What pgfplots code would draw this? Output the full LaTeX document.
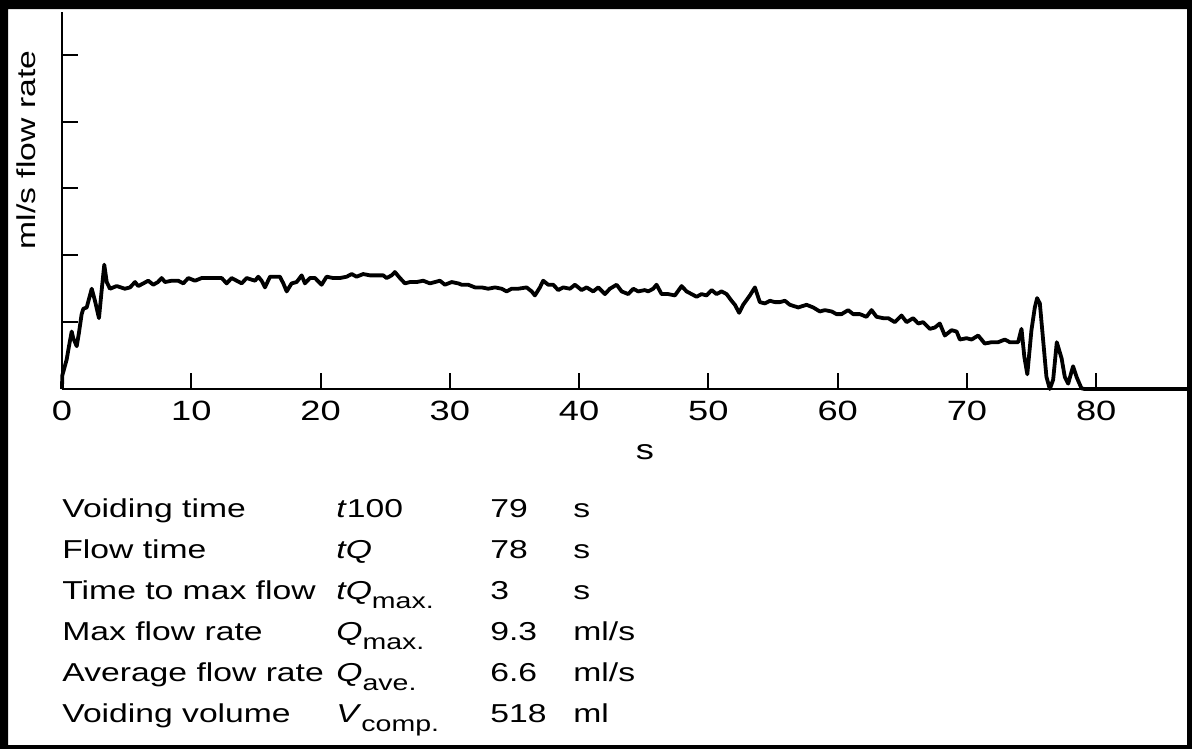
\documentclass[border=0pt]{standalone}
\usepackage{pgfplots}
\pgfplotsset{compat=1.18}
\usepackage{fontspec}
\setmainfont{Liberation Sans}[FakeStretch=1.3]

\newcommand{\sub}[1]{\raisebox{-4.5bp}{\fontsize{11}{11}\selectfont #1}}
\newcommand{\tbl}{\fontsize{13}{13}\selectfont}
\newcommand{\tck}{\fontsize{14}{14}\selectfont}

\pgfplotstableread{
t Q
0.00 0.0
0.02 1.0
0.36 2.2
0.54 3.2
0.75 4.3
0.87 3.8
1.14 3.2
1.31 4.2
1.52 5.6
1.65 6.0
1.91 6.1
2.30 7.5
2.55 6.6
2.86 5.3
3.07 7.4
3.27 9.3
3.46 8.0
3.71 7.5
4.23 7.7
4.87 7.5
5.26 7.6
5.65 8.0
5.90 7.7
6.29 7.9
6.67 8.1
7.06 7.8
7.42 8.0
7.71 8.3
7.97 8.0
8.48 8.1
8.99 8.1
9.38 7.9
9.77 8.3
10.29 8.1
10.80 8.3
12.35 8.3
12.74 7.9
13.12 8.3
13.90 7.9
14.28 8.3
14.93 8.1
15.18 8.4
15.44 8.1
15.70 7.6
16.09 8.4
16.47 8.4
16.86 8.4
17.12 7.9
17.38 7.3
17.76 7.9
18.15 8.0
18.54 8.5
18.79 7.9
19.18 8.3
19.57 8.3
20.08 7.8
20.47 8.4
20.98 8.3
21.50 8.3
22.02 8.4
22.41 8.6
22.79 8.4
23.30 8.6
23.82 8.5
24.34 8.5
24.85 8.5
25.11 8.3
25.50 8.5
25.75 8.75
26.14 8.3
26.53 7.9
26.91 8.0
27.43 8.0
27.94 8.1
28.46 7.9
28.85 8.0
29.23 8.1
29.62 7.8
30.14 8.0
30.65 7.9
30.91 7.8
31.42 7.8
31.94 7.6
32.46 7.6
32.97 7.5
33.49 7.6
34.01 7.5
34.39 7.3
34.78 7.5
35.29 7.5
35.94 7.6
36.33 7.3
36.58 7.0
36.97 7.6
37.22 8.1
37.61 7.8
38.00 7.8
38.38 7.4
38.77 7.6
39.29 7.5
39.68 7.8
40.19 7.4
40.58 7.6
41.09 7.3
41.48 7.6
42.00 7.1
42.38 7.5
42.90 7.8
43.29 7.3
43.80 7.1
44.19 7.5
44.57 7.3
45.09 7.4
45.34 7.3
45.73 7.5
45.99 7.8
46.38 7.1
46.89 7.1
47.41 7.0
47.93 7.7
48.31 7.3
48.70 7.1
49.09 6.9
49.47 7.1
49.86 7.0
50.25 7.4
50.63 7.1
51.02 7.3
51.41 7.1
51.79 6.6
52.05 6.3
52.38 5.7
52.69 6.3
53.21 7.0
53.60 7.6
53.98 6.5
54.37 6.4
54.76 6.6
55.14 6.5
55.53 6.5
55.92 6.6
56.30 6.3
56.95 6.1
57.59 6.3
58.11 6.1
58.62 5.8
59.01 5.9
59.53 5.8
59.92 5.6
60.30 5.6
60.81 5.9
61.20 5.6
61.72 5.6
62.23 5.4
62.62 5.9
63.01 5.4
63.52 5.3
63.91 5.3
64.42 5.0
64.94 5.5
65.33 5.0
65.84 5.3
66.23 4.9
66.61 5.0
67.13 4.5
67.52 4.6
67.90 4.9
68.29 4.0
68.81 4.4
69.20 4.3
69.45 3.7
69.97 3.8
70.36 3.7
70.87 4.0
71.38 3.4
71.90 3.5
72.41 3.5
72.93 3.7
73.32 3.5
73.70 3.5
73.96 3.5
74.22 4.5
74.44 2.4
74.67 1.1
74.99 4.4
75.25 6.1
75.43 6.8
75.64 6.4
75.89 3.7
76.15 0.9
76.41 0.0
76.67 0.7
76.95 3.5
77.32 2.3
77.57 0.9
77.83 0.4
78.21 1.7
78.48 0.9
78.86 0.05
79.10 0.0
87.10 0.0
}\flowdata

\begin{document}
\begin{tikzpicture}
\useasboundingbox (0,0) rectangle (596bp,-374.5bp);
\fill[black,even odd rule] (0,0) rectangle (596bp,-374.5bp)
  (4bp,-4.5bp) rectangle (593.5bp,-372.5bp);
\begin{axis}[
    at={(31bp,-194.5bp)}, anchor=south west,
    scale only axis, width=563bp, height=188.5bp,
    xmin=0, xmax=87.1, ymin=0, ymax=28.2,
    axis x line*=bottom, axis y line*=left,
    axis line style={line width=1bp,-},
    xtick={0,10,...,80}, ytick={5,10,...,25}, yticklabels={},
    tick align=inside, major tick length=8bp,
    tick style={line width=1bp,black},
    /pgf/number format/assume math mode=true,
    xticklabel style={font=\tck, yshift=-2.5bp},
    clip=false,
]
\addplot[black, line width=1.9bp, line join=round] table[x=t,y=Q] {\flowdata};
\end{axis}
\node[rotate=90, font=\tbl] at (13bp,-75bp) {ml/s flow rate};
\node[font=\tck] at (322.5bp,-226bp) {s};
\begin{scope}[every node/.style={anchor=base west, inner sep=0pt, font=\tbl}]
\node at (31bp,-258.5bp) {Voiding time};
\node at (168bp,-258.5bp) {\textit{t}100};
\node at (245bp,-258.5bp) {79};
\node at (286.5bp,-258.5bp) {s};
\node at (31bp,-279bp) {Flow time};
\node at (168bp,-279bp) {\textit{tQ}};
\node at (245bp,-279bp) {78};
\node at (286.5bp,-279bp) {s};
\node at (31bp,-299.5bp) {Time to max flow};
\node at (168bp,-299.5bp) {\textit{tQ}\sub{max.}};
\node at (245bp,-299.5bp) {3};
\node at (286.5bp,-299.5bp) {s};
\node at (31bp,-320bp) {Max flow rate};
\node at (168bp,-320bp) {\textit{Q}\sub{max.}};
\node at (245bp,-320bp) {9.3};
\node at (286.5bp,-320bp) {ml/s};
\node at (31bp,-340.5bp) {Average flow rate};
\node at (168bp,-340.5bp) {\textit{Q}\sub{ave.}};
\node at (245bp,-340.5bp) {6.6};
\node at (286.5bp,-340.5bp) {ml/s};
\node at (31bp,-361bp) {Voiding volume};
\node at (168bp,-361bp) {\textit{V}\sub{comp.}};
\node at (245bp,-361bp) {518};
\node at (286.5bp,-361bp) {ml};
\end{scope}
\end{tikzpicture}
\end{document}
